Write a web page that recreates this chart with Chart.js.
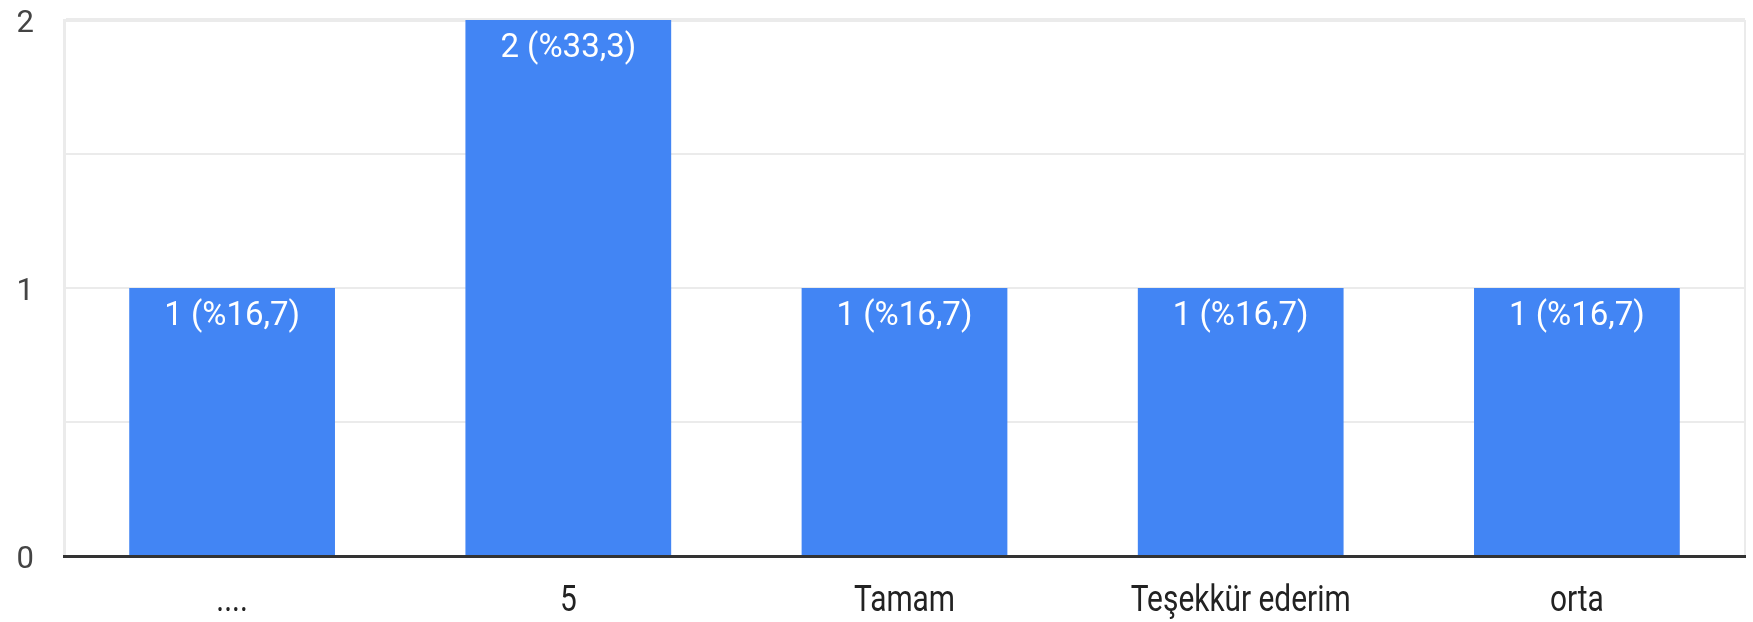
<!DOCTYPE html>
<html>
<head>
<meta charset="utf-8">
<script src="https://cdn.jsdelivr.net/npm/chart.js@4/dist/chart.umd.min.js"></script>
<style>
  html, body { margin: 0; padding: 0; background: #ffffff; }
  #wrap { width: 1753px; height: 622px; position: relative; }
</style>
</head>
<body>
<div id="wrap"><canvas id="c" width="1753" height="622"></canvas></div>
<script>
// ---- data ----
const categories = ['....', '5', 'Tamam', 'Teşekkür ederim', 'orta'];
const counts = [1, 2, 1, 1, 1];
const yTickLabels = [0, 1, 2];

const total = counts.reduce((a, b) => a + b, 0);
const barLabels = counts.map(v => v + ' (%' + (v / total * 100).toFixed(1).replace('.', ',') + ')');

const barValueLabels = {
  id: 'barValueLabels',
  afterDatasetsDraw(chart) {
    const ctx = chart.ctx;
    const meta = chart.getDatasetMeta(0);
    ctx.save();
    ctx.fillStyle = '#ffffff';
    ctx.font = '33px Roboto';
    ctx.textAlign = 'center';
    ctx.textBaseline = 'alphabetic';
    meta.data.forEach((bar, i) => {
      ctx.fillText(barLabels[i], bar.x, bar.y + 37);
    });
    ctx.restore();
  }
};

const categoryLabels = {
  id: 'categoryLabels',
  afterDraw(chart) {
    const ctx = chart.ctx;
    const xs = chart.scales.x;
    ctx.save();
    ctx.fillStyle = '#222222';
    ctx.font = '36px Roboto';
    ctx.textAlign = 'center';
    ctx.textBaseline = 'alphabetic';
    categories.forEach((lab, i) => {
      const x = xs.getPixelForValue(i);
      ctx.save();
      ctx.translate(x, xs.top + 55);
      ctx.scale(0.83, 1);
      ctx.fillText(lab, 0, 0);
      ctx.restore();
    });
    ctx.restore();
  }
};

new Chart(document.getElementById('c'), {
  type: 'bar',
  data: {
    labels: categories,
    datasets: [{
      data: counts,
      backgroundColor: '#4285f4',
      borderWidth: 0,
      categoryPercentage: 1.0,
      barPercentage: 0.612
    }]
  },
  options: {
    responsive: false,
    animation: false,
    layout: { padding: { top: 20, right: 8, left: 0, bottom: 0 } },
    plugins: {
      legend: { display: false },
      tooltip: { enabled: false }
    },
    scales: {
      x: {
        offset: true,
        grid: {
          offset: true,
          drawTicks: false,
          lineWidth: 2,
          color: ctx => (ctx.type === 'scale' ? '#ebebeb' : 'rgba(0,0,0,0)')
        },
        border: { display: true, color: '#333333', width: 3, z: 1 },
        ticks: { display: false },
        afterFit(scale) { scale.height = 66; scale.paddingLeft = 0; scale.paddingRight = 0; }
      },
      y: {
        min: 0,
        max: 2,
        grid: {
          drawTicks: false,
          color: '#ebebeb',
          lineWidth: ctx => (ctx.tick && ctx.tick.value === 2 ? 4 : 2)
        },
        border: { display: true, color: '#ebebeb', width: 3 },
        ticks: {
          stepSize: 0.5,
          padding: 30,
          labelOffset: 4,
          color: '#444444',
          font: { family: 'Roboto', size: 31 },
          callback: v => (yTickLabels.includes(v) ? String(v) : '')
        },
        afterFit(scale) { scale.width = 64; scale.paddingTop = 0; scale.paddingBottom = 0; }
      }
    }
  },
  plugins: [barValueLabels, categoryLabels]
});
</script>
</body>
</html>
